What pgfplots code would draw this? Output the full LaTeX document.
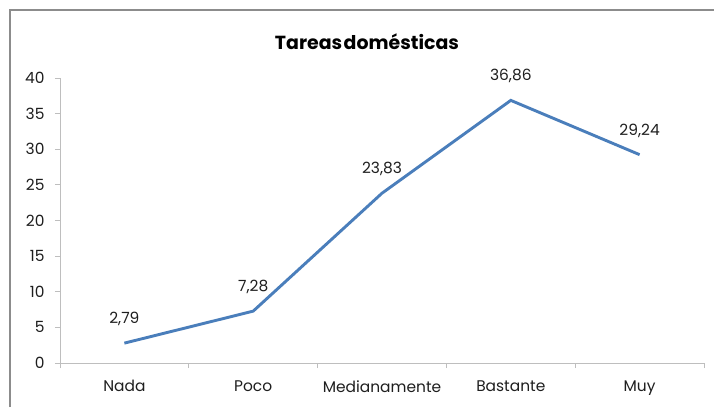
\documentclass[border=0pt]{standalone}
\usepackage{pgfplots}
\pgfplotsset{compat=1.18}
\usepackage{fontspec}
\setmainfont{Poppins}
\definecolor{linecol}{RGB}{74,126,187}
\definecolor{framecol}{RGB}{140,140,140}
\definecolor{axcol}{RGB}{190,190,190}
\definecolor{txtcol}{RGB}{30,30,30}
\begin{document}
\begin{tikzpicture}[x=1bp,y=1bp]
\useasboundingbox (0,0) rectangle (714,407);
\draw[framecol, line width=2bp] (10,0) -- (10,397) -- (714,397);
\node[font=\fontsize{19}{21}\selectfont\bfseries, text=black] at (367,365) {Tareas\hspace{1.5bp}domésticas};
\begin{axis}[
  at={(60bp,44bp)}, anchor=south west,
  scale only axis, width=644bp, height=285bp,
  xmin=0, xmax=5, ymin=0, ymax=40,
  axis lines*=left,
  axis line style={axcol, line width=0.8bp},
  every outer x axis line/.append style={-},
  every outer y axis line/.append style={-},
  xtick={0.5,1.5,2.5,3.5,4.5},
  xticklabels={Nada,Poco,Medianamente,Bastante,Muy},
  minor xtick={0,1,2,3,4,5},
  ytick={0,5,...,40},
  major x tick style={draw=none},
  minor tick length=5bp,
  major tick length=5bp,
  tick align=outside,
  tick style={axcol, line width=0.8bp},
  tick label style={font=\fontsize{15.5}{17}\selectfont, text=txtcol},
  xticklabel style={yshift=-9bp},
  yticklabel style={xshift=-7bp},
  /pgf/number format/assume math mode=true,
  clip=false,
  nodes near coords,
  nodes near coords style={font=\fontsize{15.5}{17}\selectfont, text=txtcol, anchor=center, yshift=24bp,
    /pgf/number format/.cd, use comma, fixed, fixed zerofill, precision=2, assume math mode=true},
]
\addplot[linecol, line width=2.9bp, mark=none] coordinates {
  (0.5,2.79) (1.5,7.28) (2.5,23.83) (3.5,36.86) (4.5,29.24)
};
\end{axis}
\end{tikzpicture}
\end{document}
